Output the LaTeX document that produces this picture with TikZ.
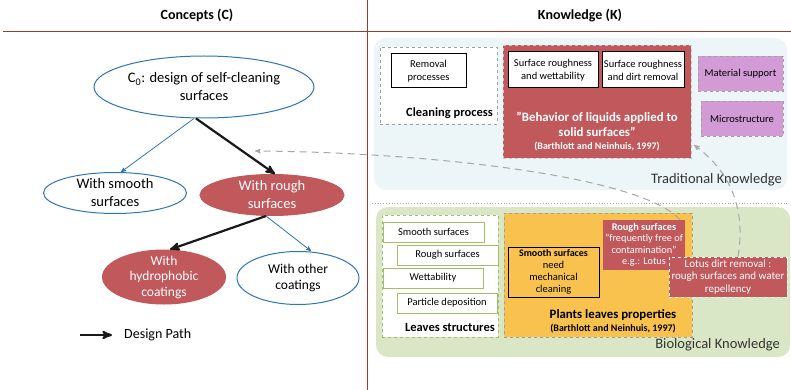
\documentclass[tikz,border=0pt]{standalone}
\usepackage{fontspec}
\setmainfont{Carlito}
\usetikzlibrary{positioning,arrows,shapes.geometric}

\definecolor{cblue}{RGB}{46,117,182}
\definecolor{cred}{RGB}{192,88,92}
\definecolor{corange}{RGB}{249,194,78}
\definecolor{cpurple}{RGB}{210,155,213}
\definecolor{tradbg}{RGB}{236,245,248}
\definecolor{biobg}{RGB}{218,231,198}
\definecolor{leafgreen}{RGB}{160,192,100}
\definecolor{rule}{RGB}{150,60,50}

\begin{document}
\begin{tikzpicture}[x=1pt,y=-1pt,>=stealth',
  concept/.style={ellipse,draw=cblue,line width=1pt,fill=white,align=center,inner xsep=-2pt,inner ysep=-4pt,font=\fontsize{14.5}{18}\selectfont},
  chosen/.style={concept,draw=cred,fill=cred,text=white},
  kbox/.style={rectangle,draw=black,line width=1pt,fill=white,align=center,inner sep=1pt,font=\fontsize{10.5}{13}\selectfont},
  leafbox/.style={rectangle,draw=leafgreen,line width=1pt,fill=white,font=\fontsize{10.5}{12}\selectfont},
  group/.style={rectangle,dashed,draw=gray!75,line width=0.9pt,inner sep=0pt},
  region/.style={rectangle,rounded corners=12,inner sep=0pt},
  regionlbl/.style={inner sep=0pt,font=\fontsize{14.5}{16}\selectfont,text=black!80},
  grouplbl/.style={inner sep=0pt,font=\bfseries\fontsize{12.5}{14}\selectfont},
  head/.style={font=\bfseries\fontsize{14}{16}\selectfont},
  designpath/.style={->,line width=2.2pt,black!90},
  branch/.style={->,cblue,line width=0.8pt},
  kblink/.style={->,gray!70,line width=1pt,dash pattern=on 7pt off 5pt}]

\useasboundingbox (0,0) rectangle (791,390);

% headers and separators
\node[head] (hconc) at (197,15) {Concepts (C)};
\node[head] (hknow) at (580,15) {Knowledge (K)};
\draw[rule,line width=0.8pt] (3,31) -- (791,31);
\draw[rule,line width=0.8pt] (367,0) -- (367,390);

% concept tree
\node[concept,minimum width=220,minimum height=62] (c0) at (204,87) {C\textsubscript{0}: design of self-cleaning\\surfaces};
\node[concept,minimum width=143,minimum height=41] (smooth) at (115,193) {With smooth\\surfaces};
\node[chosen,minimum width=144,minimum height=41] (rough) at (272,195) {With rough\\surfaces};
\node[chosen,minimum width=123,minimum height=54,inner ysep=-9pt,font=\fontsize{13.5}{15.5}\selectfont] (hydro) at (164,277) {With\\hydrophobic\\coatings};
\node[concept,minimum width=122,minimum height=53,font=\fontsize{13.5}{16}\selectfont] (other) at (298,278) {With other\\coatings};

\draw[branch] ([xshift=-10]c0.south) -- ([xshift=6]smooth.north);
\draw[designpath] ([xshift=-8]c0.south) -- ([xshift=3]rough.north);
\draw[designpath] ([xshift=-6]rough.south) -- ([xshift=6]hydro.north);
\draw[branch] ([xshift=-6]rough.south) -- ([xshift=13]other.north);

% legend
\coordinate (legstart) at (80,335);
\node[anchor=west,inner sep=0pt,font=\fontsize{14}{16}\selectfont] (legtxt) at (124,335) {Design Path};
\draw[designpath] (legstart) -- ([xshift=-12]legtxt.west);

% traditional knowledge
\node[region,fill=tradbg,minimum width=413,minimum height=152] (trad) at (580.5,114) {};
\node[regionlbl,anchor=base east] (tradlbl) at (782,183) {Traditional Knowledge};

\node[group,fill=white,minimum width=117,minimum height=77] (clean) at (438.5,85.5) {};
\node[kbox,minimum width=75,minimum height=34] (removal) at (428.5,71) {Removal\\processes};
\node[grouplbl,anchor=base east] (cleanlbl) at (493,117) {Cleaning process};

\node[group,draw=gray!45,fill=cred,minimum width=188,minimum height=113] (liquids) at (597,101.5) {};
\node[kbox,minimum width=90,minimum height=36] (srw) at (553,70) {Surface roughness\\and wettability};
\node[kbox,minimum width=82,minimum height=36] (srd) at (643,70) {Surface roughness\\and dirt removal};
\node[align=center,text=white,font=\bfseries\fontsize{12.8}{14.5}\selectfont] (liqtxt) at (597,132)
  {"Behavior of liquids applied to\\solid surfaces"\\[-1pt]{\fontsize{10}{11}\selectfont (Barthlott and Neinhuis, 1997)}};

\node[group,fill=cpurple,font=\fontsize{10.5}{12}\selectfont,minimum width=85,minimum height=35] (material) at (740.5,73.5) {Material support};
\node[group,fill=cpurple,font=\fontsize{10.5}{12}\selectfont,minimum width=82,minimum height=35] (micro) at (742,118.5) {Microstructure};

\draw[gray!70,line width=0.8pt,dotted] (372,203) -- (787,203);

% biological knowledge
\node[region,fill=biobg,minimum width=414,minimum height=150] (bio) at (583,282) {};
\node[regionlbl,anchor=base east] (biolbl) at (780,348) {Biological Knowledge};

\node[group,draw=leafgreen,fill=white,minimum width=116,minimum height=122] (leaves) at (440,276) {};
\node[leafbox,minimum width=101,minimum height=20] (lsmooth) at (433.5,232) {Smooth surfaces};
\node[leafbox,minimum width=101,minimum height=20] (lrough) at (447.5,255) {Rough surfaces};
\node[leafbox,minimum width=100,minimum height=20] (lwett) at (433,278) {Wettability};
\node[leafbox,minimum width=100,minimum height=20] (lpart) at (447,303) {Particle deposition};
\node[grouplbl,anchor=base east] (leaveslbl) at (495,331) {Leaves structures};

\node[group,fill=corange,minimum width=188,minimum height=124] (plants) at (598,275) {};
\node[kbox,fill=none,minimum width=91,minimum height=50,font=\fontsize{10.5}{12}\selectfont] (psmooth) at (553.5,272)
  {{\bfseries\fontsize{10}{12}\selectfont Smooth surfaces}\\need\\mechanical\\cleaning};
\node[rectangle,fill=cred,text=white,align=center,inner sep=0pt,minimum width=82,minimum height=50,font=\fontsize{10.3}{11.5}\selectfont] (prough) at (644,245)
  {\textbf{Rough surfaces}\\"frequently free of\\contamination"\\e.g.: Lotus};
\node[align=center,font=\bfseries\fontsize{12.8}{14}\selectfont] (plantslbl) at (613,321)
  {Plants leaves properties\\[-1pt]{\fontsize{10}{11}\selectfont (Barthlott and Neinhuis, 1997)}};
\node[rectangle,dashed,draw=white,line width=0.9pt,fill=cred,text=white,align=center,inner sep=0pt,minimum width=118,minimum height=40,font=\fontsize{11}{12.3}\selectfont] (lotus) at (728,277)
  {Lotus dirt removal :\\rough surfaces and water\\repellency};

% knowledge to concept links
\coordinate (cin) at (255,151);
\coordinate (liqin) at (694,145);
\draw[kblink] ([xshift=36]prough.north) .. controls (640,175) and (420,152) .. (cin);
\draw[kblink] ([xshift=10]lotus.north) .. controls (745,215) and (735,175) .. (liqin);

\end{tikzpicture}
\end{document}
